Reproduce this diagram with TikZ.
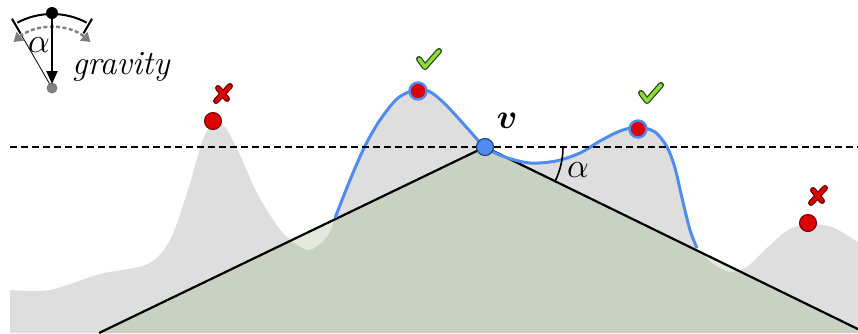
\documentclass[tikz,border=0pt]{standalone}
\usepackage{amsmath}
\usetikzlibrary{arrows.meta}
\definecolor{hill}{RGB}{222,222,222}
\definecolor{slope}{RGB}{142,172,113}
\definecolor{pathblue}{RGB}{80,140,240}
\definecolor{dotred}{RGB}{222,0,0}
\definecolor{okgreen}{RGB}{140,218,60}

\begin{document}
\begin{tikzpicture}[x=0.5pt,y=-0.5pt,font=\fontsize{16}{19}\selectfont,
 reddot/.style={circle,fill=dotred,draw=black!60!red,line width=0.5pt,minimum size=8.5pt,inner sep=0pt},
 vdot/.style={circle,fill=pathblue,draw=black!50!pathblue,line width=0.6pt,minimum size=8.5pt,inner sep=0pt},
 markout/.style={line width=3pt,line cap=round,line join=round},
 markin/.style={line width=1.8pt,line cap=round,line join=round}]
\useasboundingbox (0,0) rectangle (858,333);
\clip (0,0) rectangle (858,333);

% landscape
\fill[hill] (10,333) -- plot[smooth] coordinates {(10,290) (50,290) (100,274) (148,264) (170,240) (188,190) (202,142) (213,123) (225,127) (240,155) (258,195) (283,233) (308,250) (327,237) (335,218)}
 -- plot[smooth] coordinates {(335,218) (350,180) (365,146) (380,120) (398,98) (418,89) (432,93) (448,107) (468,129) (485,147) (505,157) (530,163) (556,161) (580,153) (600,141) (620,131) (638,127) (655,132) (667,147) (675,168) (682,198) (690,230) (697,248)}
 -- plot[smooth] coordinates {(697,248) (712,263) (730,272) (748,266) (768,247) (788,230) (808,224) (832,227) (858,242)}
 -- (858,333) -- cycle;

\coordinate (v) at (485,147);
\coordinate (bl) at (99,333);
\coordinate (br) at (866,333);
\fill[slope,fill opacity=0.25] (v) -- (bl) -- (br) -- cycle;
\draw[line width=1.1pt] (bl) -- (v) -- (br);

% feasible part
\draw[pathblue,line width=1.5pt] plot[smooth] coordinates {(335,218) (350,180) (365,146) (380,120) (398,98) (418,89) (432,93) (448,107) (468,129) (485,147) (505,157) (530,163) (556,161) (580,153) (600,141) (620,131) (638,127) (655,132) (667,147) (675,168) (682,198) (690,230) (697,248)};

\coordinate (hl) at (10,147);
\coordinate (hr) at (858,147);
\draw[line width=1pt,dash pattern=on 3.5pt off 2pt] (hl) -- (hr);

\draw[line width=0.8pt] (v) ++(0:78) arc[start angle=0,end angle=26,radius=78];
\node (alab) at (578,170) {$\alpha$};

\node[vdot] (vd) at (v) {};
\node (vlab) at (507,121) {$\boldsymbol{v}$};

\node[reddot] (p1) at (213,121) {};
\node[reddot,draw=pathblue,line width=1.2pt] (p2) at (418,91) {};
\node[reddot,draw=pathblue,line width=1.2pt] (p3) at (638,129) {};
\node[reddot] (p4) at (808,223) {};

% marks
\draw[markout,black!60!red] (216,101) -- (230,86) (218,88) -- (227,99);
\draw[markin,dotred] (216,101) -- (230,86) (218,88) -- (227,99);
\draw[markout,black!60!red] (811,203) -- (825,188) (813,190) -- (822,201);
\draw[markin,dotred] (811,203) -- (825,188) (813,190) -- (822,201);
\draw[markout,black!70!okgreen] (419,59) -- (425,67) -- (439,51);
\draw[markin,okgreen] (419,59) -- (425,67) -- (439,51);
\draw[markout,black!70!okgreen] (641,93) -- (647,101) -- (661,85);
\draw[markin,okgreen] (641,93) -- (647,101) -- (661,85);

% gravity icon
\coordinate (g) at (52,88);
\coordinate (piv) at (52,13);
\draw[line width=1pt] (g) ++(-118:74) arc[start angle=-118,end angle=-62,radius=74];
\draw[line width=1pt] (g) ++(-120:63) -- ++(-120:17);
\draw[line width=1pt] (g) ++(-60:63) -- ++(-60:17);
\draw[thin] (g) -- ++(-120:63);
\draw[gray,line width=1.2pt,dash pattern=on 2pt off 1.2pt,{Triangle[length=4.5pt,width=5.5pt]}-{Triangle[length=4.5pt,width=5.5pt]}] (g) ++(-130:60) arc[start angle=-130,end angle=-50,radius=60];
\fill[gray] (g) circle[radius=5.5];
\fill (piv) circle[radius=6];
\draw[line width=1.1pt,-{Triangle[length=6.5pt,width=5.5pt]}] (piv) -- (52,84);
\node (alph) at (39,45) {$\alpha$};
\node[anchor=west] (grav) at (65,67) {\fontsize{17}{20}\selectfont\textit{gravity}};
\end{tikzpicture}
\end{document}
